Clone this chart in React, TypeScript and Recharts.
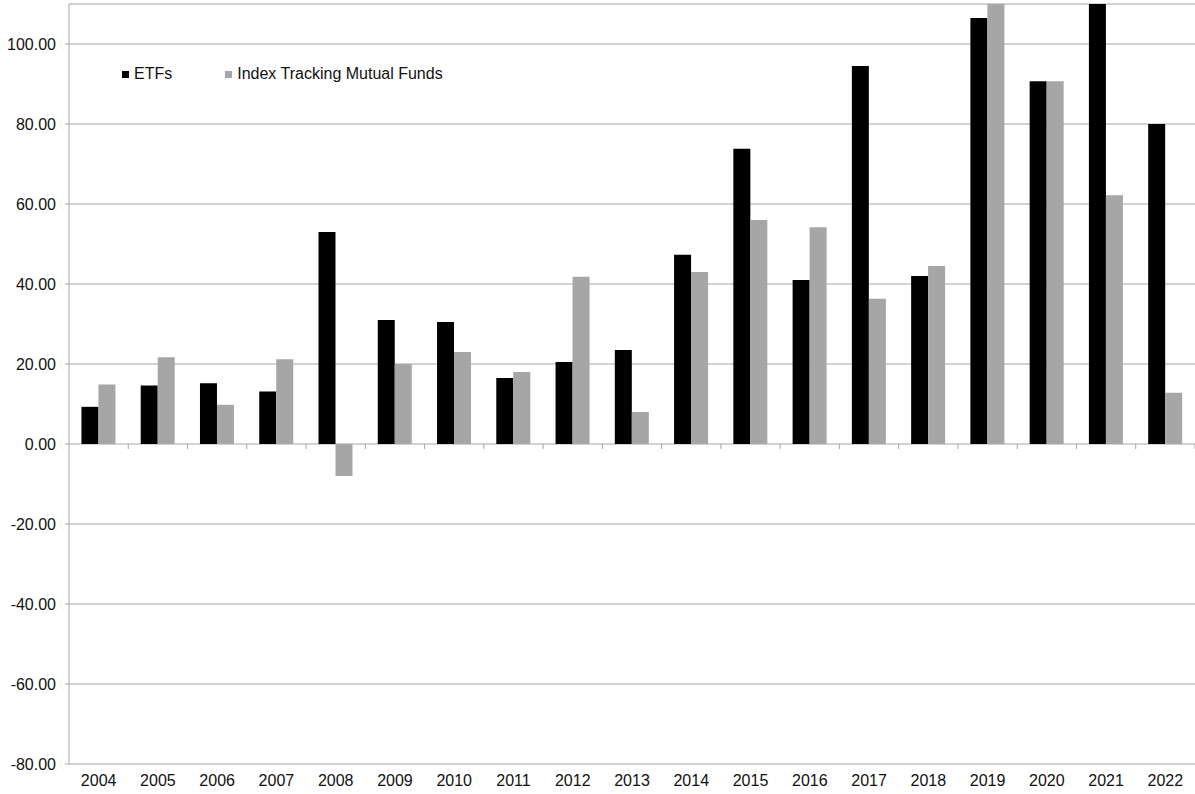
import { BarChart, Bar, XAxis, YAxis, CartesianGrid, Legend } from 'recharts';

const years = ['2004', '2005', '2006', '2007', '2008', '2009', '2010', '2011', '2012', '2013', '2014', '2015', '2016', '2017', '2018', '2019', '2020', '2021', '2022'];
const etfs = [9.3, 14.6, 15.2, 13.1, 53.0, 31.0, 30.5, 16.5, 20.5, 23.5, 47.3, 73.8, 41.0, 94.5, 42.0, 106.5, 90.7, 112.0, 80.0];
const indexFunds = [14.9, 21.7, 9.8, 21.2, -8.0, 20.0, 23.0, 18.0, 41.8, 8.0, 43.0, 56.0, 54.2, 36.3, 44.5, 112.0, 90.7, 62.2, 12.8];
const yTicks = [-80, -60, -40, -20, 0, 20, 40, 60, 80, 100];

const data = years.map((year, i) => ({ year, etfs: etfs[i], index: indexFunds[i] }));

const W = 1195;
const H = 794;
const TOP = 4;
const BOTTOM = 30;
const LEFT = 69;
const plotH = H - TOP - BOTTOM;
const band = (W - LEFT) / years.length;
const zeroY = TOP + (110 / 190) * plotH;
const font = '"Liberation Sans", Arial, sans-serif';

const XTick = (props: any) => {
  const { x, y, payload } = props;
  return (
    <g>
      <line x1={x + band / 2} x2={x + band / 2} y1={zeroY} y2={zeroY + 5} stroke="#a6a6a6" />
      <text x={x} y={y + 14} textAnchor="middle" fontSize={16} fill="#111" fontFamily={font}>
        {payload.value}
      </text>
    </g>
  );
};

const LegendContent = () => (
  <div style={{ display: 'flex', fontFamily: font, fontSize: 16, color: '#111', alignItems: 'center', whiteSpace: 'nowrap' }}>
    <span style={{ width: 7, height: 7, background: '#000', display: 'inline-block', marginRight: 5 }} />
    <span style={{ marginRight: 53 }}>ETFs</span>
    <span style={{ width: 7, height: 7, background: '#a6a6a6', display: 'inline-block', marginRight: 5 }} />
    <span>Index Tracking Mutual Funds</span>
  </div>
);

export default function App() {
  return (
    <div style={{ position: 'absolute', left: 0, top: 0, background: '#fff' }}>
      <BarChart
        width={W}
        height={H}
        data={data}
        margin={{ top: TOP, right: 0, bottom: 0, left: 0 }}
        barGap={0}
        barCategoryGap="21%"
      >
        <CartesianGrid vertical={false} stroke="#a6a6a6" />
        <XAxis
          dataKey="year"
          height={BOTTOM}
          axisLine={false}
          tickLine={false}
          tick={<XTick />}
          interval={0}
        />
        <YAxis
          width={LEFT}
          domain={[-80, 110]}
          ticks={yTicks}
          allowDataOverflow
          interval={0}
          axisLine={{ stroke: '#a6a6a6' }}
          tickLine={{ stroke: '#a6a6a6' }}
          tickSize={4}
          tickMargin={9}
          tickFormatter={(v: number) => v.toFixed(2)}
          tick={{ fontSize: 16, fill: '#111', fontFamily: font }}
        />
        <Legend
          verticalAlign="middle"
          align="center"
          content={<LegendContent />}
          wrapperStyle={{ position: 'absolute', top: 65, left: 122, right: 'auto', bottom: 'auto', width: 'auto' }}
        />
        <Bar dataKey="etfs" name="ETFs" fill="#000000" isAnimationActive={false} />
        <Bar dataKey="index" name="Index Tracking Mutual Funds" fill="#a6a6a6" isAnimationActive={false} />
      </BarChart>
    </div>
  );
}
